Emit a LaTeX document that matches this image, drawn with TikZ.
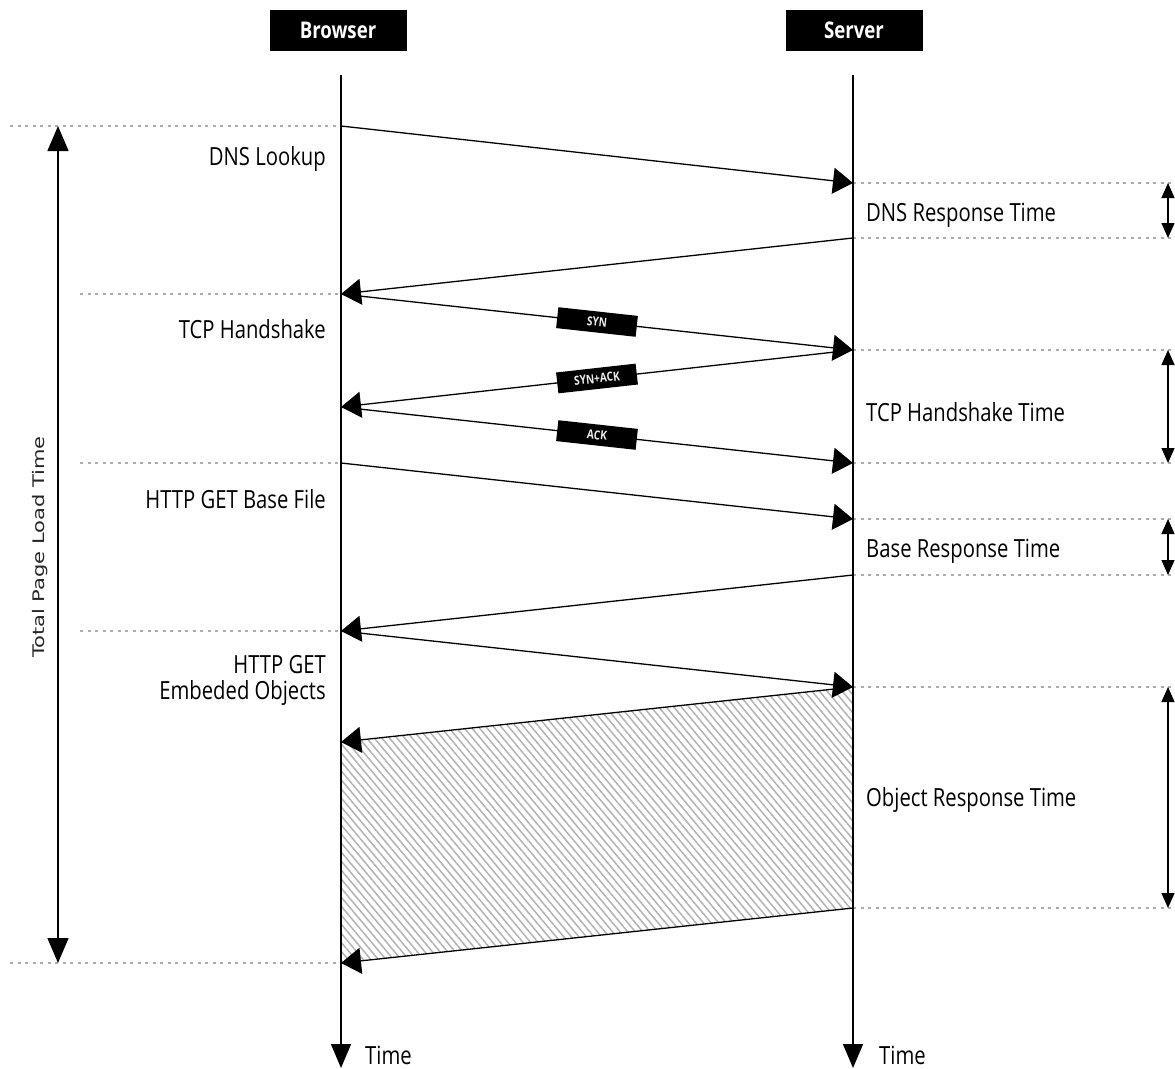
\documentclass[tikz,border=0pt]{standalone}
\usepackage{fontspec}
\usepackage{graphicx}
\usetikzlibrary{arrows.meta,patterns.meta}
\newfontfamily\labelfont[FakeStretch=0.81]{Open Sans}
\newfontfamily\sidefont{DejaVu Sans}

\tikzset{
  lifeline/.style={line width=1.4pt, -{Triangle[length=24pt,width=20pt]}},
  msg/.style={line width=1.3pt, -{Triangle[length=20pt,width=26pt]}},
  guide/.style={gray!65, line width=2.2pt, dash pattern=on 3pt off 4.5pt},
  span/.style={line width=1.4pt, {Triangle[length=15pt,width=13pt]}-{Triangle[length=15pt,width=13pt]}},
  bigspan/.style={line width=1.4pt, {Triangle[length=25pt,width=21pt]}-{Triangle[length=25pt,width=21pt]}},
  header/.style={fill=black, text=white, minimum width=137pt, minimum height=41pt, inner sep=0pt,
    font=\labelfont\bfseries\fontsize{23}{26}\selectfont},
  leftlbl/.style={anchor=east, align=right, inner sep=0pt, font=\labelfont\fontsize{25}{27}\selectfont},
  rightlbl/.style={anchor=west, inner sep=0pt, font=\labelfont\fontsize{25}{27}\selectfont},
  flag/.style={midway, sloped, fill=black, text=white!92!black, minimum width=80pt, minimum height=21pt, inner sep=0pt,
    font=\labelfont\bfseries\fontsize{12.5}{13}\selectfont},
  timelbl/.style={anchor=west, inner sep=0pt, font=\labelfont\fontsize{25}{27}\selectfont},
}

\begin{document}
\begin{tikzpicture}[x=1pt, y=-1pt]
\useasboundingbox (0,0) rectangle (1175,1068);

% participants
\node[header] (browser) at (338,30) {Browser};
\node[header] (server) at (854,30) {Server};

% event points on the two lifelines
\coordinate (btop) at (341,75);
\coordinate (stop) at (853,75);
\coordinate (bend) at (341,1068);
\coordinate (send) at (853,1068);
\coordinate (b0) at (341,126);
\coordinate (s1) at (853,183);
\coordinate (s2) at (853,238);
\coordinate (b3) at (341,294);
\coordinate (s4) at (853,350);
\coordinate (b5) at (341,407);
\coordinate (s6) at (853,463);
\coordinate (b6) at (341,463);
\coordinate (s7) at (853,519);
\coordinate (s8) at (853,575);
\coordinate (b9) at (341,631);
\coordinate (s10) at (853,687);
\coordinate (b11) at (341,742);
\coordinate (s12) at (853,908);
\coordinate (b13) at (341,963);

% hatched transfer of the embedded objects
\fill[pattern={Lines[angle=-50,distance=5.8pt,line width=1.5pt]}, pattern color=gray!60]
  (s10) -- (b11) -- (b13) -- (s12) -- cycle;

% guide lines on the browser side
\coordinate (g0) at (10,126);
\coordinate (g3) at (80,294);
\coordinate (g6) at (80,463);
\coordinate (g9) at (80,631);
\coordinate (g13) at (10,963);
\foreach \a/\b in {g0/b0, g3/b3, g6/b6, g9/b9, g13/b13}
  \draw[guide] (\a) -- (\b);

% guide lines on the server side
\foreach \p/\y in {s1/183, s2/238, s4/350, s6/463, s7/519, s8/575, s10/687, s12/908}
  \draw[guide] (\p) -- (1172,\y);

% lifelines
\draw[lifeline] (btop) -- (bend);
\draw[lifeline] (stop) -- (send);
\node[timelbl] (tb) at (365,1055) {Time};
\node[timelbl] (ts) at (879,1055) {Time};

% messages
\draw[msg] (b0) -- (s1);
\draw[msg] (s2) -- (b3);
\draw[msg] (b3) -- node[flag] {SYN} (s4);
\draw[msg] (s4) -- node[flag] {SYN+ACK} (b5);
\draw[msg] (b5) -- node[flag] {ACK} (s6);
\draw[msg] (b6) -- (s7);
\draw[msg] (s8) -- (b9);
\draw[msg] (b9) -- (s10);
\draw[msg] (s10) -- (b11);
\draw[msg] (s12) -- (b13);

% phase labels
\node[leftlbl] (l1) at (326,159) {DNS Lookup};
\node[leftlbl] (l2) at (326,329) {TCP Handshake};
\node[leftlbl] (l3) at (326,499) {HTTP GET Base File};
\node[leftlbl] (l4) at (326,680) {HTTP GET\\[-1pt]Embeded Objects};

\node[rightlbl] (r1) at (866,215) {DNS Response Time};
\node[rightlbl] (r2) at (866,412) {TCP Handshake Time};
\node[rightlbl] (r3) at (866,551) {Base Response Time};
\node[rightlbl] (r4) at (866,800) {Object Response Time};

% durations
\coordinate (d1a) at (1168,183); \coordinate (d1b) at (1168,238);
\coordinate (d2a) at (1168,350); \coordinate (d2b) at (1168,463);
\coordinate (d3a) at (1168,519); \coordinate (d3b) at (1168,575);
\coordinate (d4a) at (1168,687); \coordinate (d4b) at (1168,908);
\draw[span] (d1a) -- (d1b);
\draw[span] (d2a) -- (d2b);
\draw[span] (d3a) -- (d3b);
\draw[span] (d4a) -- (d4b);

\coordinate (ta) at (58,126);
\coordinate (tb2) at (58,963);
\draw[bigspan] (ta) -- (tb2);
\node[rotate=90, inner sep=0pt, text=black!85] (total) at (40,547)
  {\scalebox{1}[0.76]{\sidefont\fontsize{21}{24}\selectfont Total Page Load Time}};
\end{tikzpicture}
\end{document}
